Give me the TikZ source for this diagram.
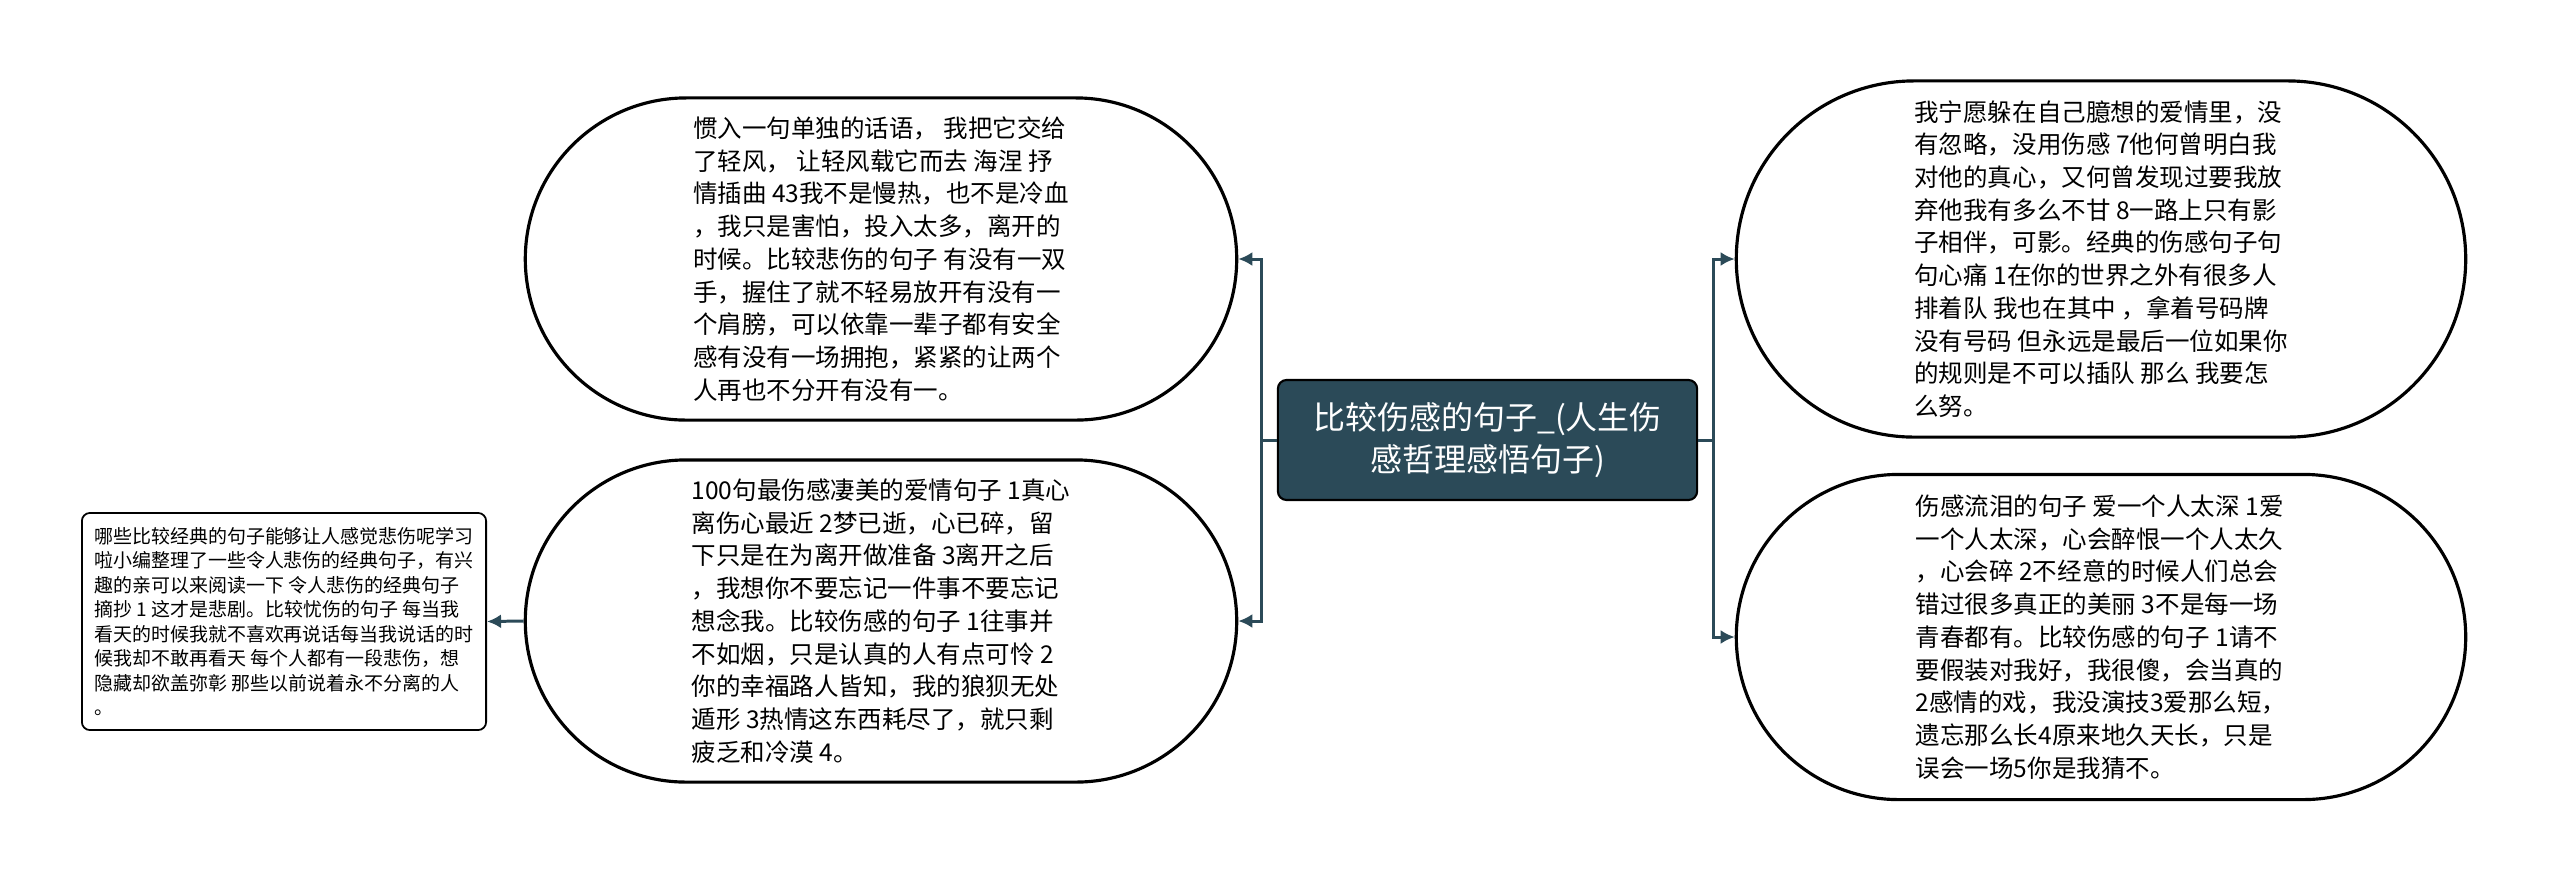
\documentclass[tikz,border=0pt]{standalone}
\usepackage{fontspec}
\setmainfont{Noto Sans CJK SC}
\usetikzlibrary{arrows.meta,shapes.misc}
\definecolor{mmteal}{RGB}{43,74,88}

\begin{document}
\begin{tikzpicture}[x=0.01cm, y=0.01cm,
  topic/.style={draw=black, fill=mmteal, text=white, rounded corners=2.5pt,
    line width=0.6pt, minimum width=4.19cm, minimum height=1.2cm,
    align=center, inner sep=0pt, font=\fontsize{9.1}{12}\selectfont},
  bubble/.style={rounded rectangle, draw=black, fill=white, line width=0.9pt,
    minimum width=7.11cm, minimum height=3.22cm, align=left, inner sep=0pt,
    font=\fontsize{6.97}{9.3}\selectfont},
  note/.style={draw=black, rounded corners=2.3pt, line width=0.5pt,
    minimum width=4.04cm, minimum height=2.17cm, align=left, inner sep=0pt,
    font=\fontsize{5.4}{6.94}\selectfont},
  conn/.style={-{Latex[length=4pt,width=4pt]}, line width=0.85pt, mmteal}]
\useasboundingbox (0,0) rectangle (2560,-881);
% Center
\node[topic] (root) at (1487.5,-440) {比较伤感的句子\_(人生伤\\感哲理感悟句子)};
% Left side
\node[bubble] (lt) at (881,-259) {惯入一句单独的话语， 我把它交给\\了轻风， 让轻风载它而去 海涅 抒\\情插曲 43我不是慢热，也不是冷血\\，我只是害怕，投入太多，离开的\\时候。比较悲伤的句子 有没有一双\\手，握住了就不轻易放开有没有一\\个肩膀，可以依靠一辈子都有安全\\感有没有一场拥抱，紧紧的让两个\\人再也不分开有没有一。};
\node[bubble] (lb) at (881,-621) {100句最伤感凄美的爱情句子 1真心\\离伤心最近 2梦已逝，心已碎，留\\下只是在为离开做准备 3离开之后\\，我想你不要忘记一件事不要忘记\\想念我。比较伤感的句子 1往事并\\不如烟，只是认真的人有点可怜 2\\你的幸福路人皆知，我的狼狈无处\\遁形 3热情这东西耗尽了，就只剩\\疲乏和冷漠 4。};
\node[note] (lbnote) at (284,-621.5) {哪些比较经典的句子能够让人感觉悲伤呢学习\\啦小编整理了一些令人悲伤的经典句子，有兴\\趣的亲可以来阅读一下 令人悲伤的经典句子\\摘抄 1 这才是悲剧。比较忧伤的句子 每当我\\看天的时候我就不喜欢再说话每当我说话的时\\候我却不敢再看天 每个人都有一段悲伤，想\\隐藏却欲盖弥彰 那些以前说着永不分离的人\\。};
% Right side
\node[bubble, minimum width=7.29cm, minimum height=3.56cm] (rt) at (2101,-259) {我宁愿躲在自己臆想的爱情里，没\\有忽略，没用伤感 7他何曾明白我\\对他的真心，又何曾发现过要我放\\弃他我有多么不甘 8一路上只有影\\子相伴，可影。经典的伤感句子句\\句心痛 1在你的世界之外有很多人\\排着队 我也在其中 ，拿着号码牌\\没有号码 但永远是最后一位如果你\\的规则是不可以插队 那么 我要怎\\么努。};
\node[bubble, minimum width=7.29cm, minimum height=3.25cm] (rb) at (2101,-637) {伤感流泪的句子 爱一个人太深 1爱\\一个人太深，心会醉恨一个人太久\\，心会碎 2不经意的时候人们总会\\错过很多真正的美丽 3不是每一场\\青春都有。比较伤感的句子 1请不\\要假装对我好，我很傻，会当真的\\2感情的戏，我没演技3爱那么短，\\遗忘那么长4原来地久天长，只是\\误会一场5你是我猜不。};
% Connectors
\draw[conn] (root.west) -- ++(-15,0) |- (lt.east);
\draw[conn] (root.west) -- ++(-15,0) |- (lb.east);
\draw[conn] (root.east) -- ++(15,0) |- (rt.west);
\draw[conn] (root.east) -- ++(15,0) |- (rb.west);
\draw[conn] (lb.west) -- (lbnote.east);
\end{tikzpicture}
\end{document}
